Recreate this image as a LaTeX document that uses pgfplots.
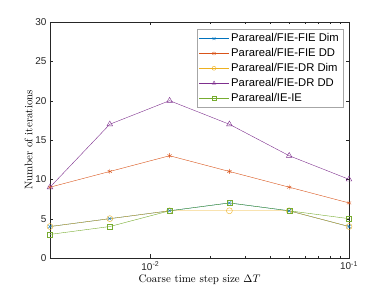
\documentclass[border=0pt]{standalone}
\usepackage{pgfplots}
\pgfplotsset{compat=1.18}
\usepackage{fontspec}
\setmainfont{Liberation Sans}
\newfontfamily\lmr{Latin Modern Roman}
\definecolor{mblue}{rgb}{0,0.447,0.741}
\definecolor{morange}{rgb}{0.85,0.325,0.098}
\definecolor{myellow}{rgb}{0.929,0.694,0.125}
\definecolor{mpurple}{rgb}{0.494,0.184,0.556}
\definecolor{mgreen}{rgb}{0.466,0.674,0.188}
\definecolor{axgray}{rgb}{0.15,0.15,0.15}
\begin{document}
\begin{tikzpicture}
\begin{axis}[
  scale only axis, width=299bp, height=236bp,
  xmode=log, xmin=0.003125, xmax=0.1,
  ymin=0, ymax=30, ytick={0,5,...,30},
  xtick={0.01,0.1}, xticklabels={10\textsuperscript{-2},10\textsuperscript{-1}},
  tick align=inside, axis line style={axgray}, tick style={axgray},
  major tick length=3.5bp, minor tick length=2bp,
  every tick label/.append style={font=\fontsize{10}{12}\selectfont, text=axgray},
  /pgf/number format/assume math mode=true,
  xlabel={\lmr Coarse time step size $\Delta T$},
  ylabel={\lmr Number of iterations},
  label style={font=\fontsize{11}{13}\selectfont},
  xlabel style={yshift=2bp},
  ylabel style={yshift=-4bp},
  legend style={at={(0.98,0.97)}, anchor=north east, draw=gray!70, font=\fontsize{11.3}{13}\selectfont, row sep=1.2bp, inner xsep=2bp, inner ysep=2.5bp},
  legend cell align=left,
  legend image code/.code={\draw[mark repeat=2,mark phase=2,mark size=2bp,#1] plot coordinates {(0bp,0bp) (15bp,0bp) (30bp,0bp)};},
]
\addplot[mblue, mark=x, mark size=2.5bp] coordinates {(0.003125,4)(0.00625,5)(0.0125,6)(0.025,7)(0.05,6)(0.1,4)};
\addlegendentry{Parareal/FIE-FIE Dim}
\addplot[morange, mark=asterisk, mark size=2.5bp] coordinates {(0.003125,9)(0.00625,11)(0.0125,13)(0.025,11)(0.05,9)(0.1,7)};
\addlegendentry{Parareal/FIE-FIE DD}
\addplot[myellow, mark=o, mark size=3bp] coordinates {(0.003125,4)(0.00625,5)(0.0125,6)(0.025,6)(0.05,6)(0.1,4)};
\addlegendentry{Parareal/FIE-DR Dim}
\addplot[mpurple, mark=triangle, mark size=3.3bp] coordinates {(0.003125,9)(0.00625,17)(0.0125,20)(0.025,17)(0.05,13)(0.1,10)};
\addlegendentry{Parareal/FIE-DR DD}
\addplot[mgreen, mark=square, mark size=2.5bp] coordinates {(0.003125,3)(0.00625,4)(0.0125,6)(0.025,7)(0.05,6)(0.1,5)};
\addlegendentry{Parareal/IE-IE}
\coordinate (SW) at (rel axis cs:0,0);
\coordinate (NE) at (rel axis cs:1,1);
\end{axis}
\useasboundingbox ([xshift=-50bp,yshift=-32bp]SW) rectangle ([xshift=37bp,yshift=22bp]NE);
\end{tikzpicture}
\end{document}
